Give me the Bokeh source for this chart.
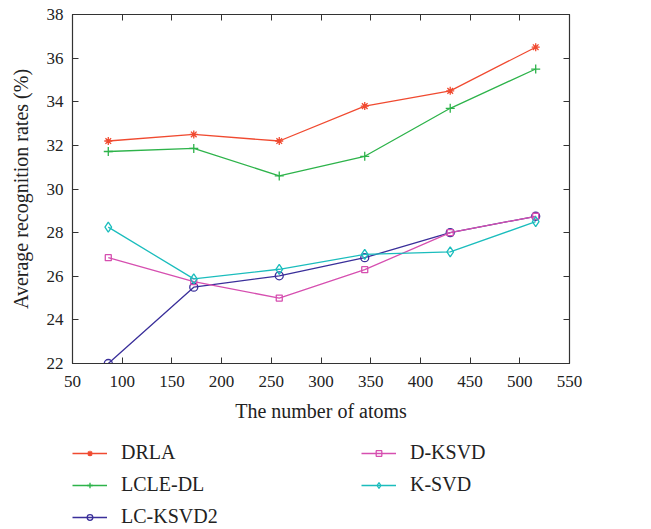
from bokeh.plotting import figure
from bokeh.models import Legend, LegendItem, LinearAxis, FixedTicker, Range1d
from bokeh.layouts import column
from bokeh.embed import file_html
from bokeh.resources import INLINE

atoms = [86, 172, 258, 344, 430, 516]
drla = [32.2, 32.5, 32.2, 33.8, 34.5, 36.5]
lcle_dl = [31.72, 31.86, 30.6, 31.5, 33.7, 35.5]
lc_ksvd2 = [22.0, 25.5, 26.02, 26.85, 28.0, 28.75]
d_ksvd = [26.85, 25.75, 25.0, 26.3, 28.0, 28.75]
k_svd = [28.25, 25.88, 26.32, 27.0, 27.12, 28.5]

x_ticks = [50, 100, 150, 200, 250, 300, 350, 400, 450, 500, 550]
y_ticks = [22, 24, 26, 28, 30, 32, 34, 36, 38]

FONT = "Liberation Serif"

p = figure(width=643, height=435, output_backend="svg", toolbar_location=None,
           x_range=Range1d(50, 550), y_range=Range1d(22, 38),
           min_border_left=72, min_border_right=74, min_border_top=14, min_border_bottom=72)
p.grid.visible = False
p.outline_line_color = "#333333"
p.outline_line_width = 1.2

def style_axis(ax):
    ax.axis_line_color = "#333333"
    ax.major_tick_line_color = "#333333"
    ax.major_tick_in = 6
    ax.major_tick_out = 0
    ax.minor_tick_line_color = None
    ax.major_label_text_font = FONT
    ax.major_label_text_font_size = "17px"
    ax.major_label_text_color = "#222222"
    ax.axis_label_text_font = FONT
    ax.axis_label_text_font_size = "20px"
    ax.axis_label_text_font_style = "normal"
    ax.axis_label_text_color = "#222222"

p.xaxis.ticker = FixedTicker(ticks=x_ticks)
p.yaxis.ticker = FixedTicker(ticks=y_ticks)
p.xaxis.axis_label = "The number of atoms"
p.yaxis.axis_label = "Average recognition rates (%)"
style_axis(p.xaxis[0])
style_axis(p.yaxis[0])
p.xaxis.major_label_standoff = 12
p.yaxis.major_label_standoff = 9
p.xaxis.axis_label_standoff = 10
p.yaxis.axis_label_standoff = 12

top = LinearAxis(ticker=FixedTicker(ticks=x_ticks),
                 major_label_overrides={t: "" for t in x_ticks})
right = LinearAxis(ticker=FixedTicker(ticks=y_ticks),
                   major_label_overrides={t: "" for t in y_ticks})
style_axis(top)
style_axis(right)
top.major_label_standoff = 0
right.major_label_standoff = 0
p.add_layout(top, "above")
p.add_layout(right, "right")

names = ["DRLA", "LCLE-DL", "LC-KSVD2", "D-KSVD", "K-SVD"]
values = [drla, lcle_dl, lc_ksvd2, d_ksvd, k_svd]
colors = ["#F04A30", "#2DB34A", "#3A2F9A", "#D64FB0", "#1BBDBD"]
markers = ["asterisk", "cross", "circle", "square", "diamond"]
sizes = [8, 9, 8, 6, 10]

for ys, color, marker, size in zip(values, colors, markers, sizes):
    p.line(atoms, ys, line_color=color, line_width=1.3)
    p.scatter(atoms, ys, marker=marker, size=size, line_color=color,
              fill_color=None, line_width=1.3)

# legend panel below the plot (its renderers use the same data, outside its view)
lg = figure(width=643, height=94, output_backend="svg", toolbar_location=None,
            x_range=Range1d(0, 1), y_range=Range1d(0, 1),
            min_border_left=0, min_border_right=0, min_border_top=0, min_border_bottom=0)
lg.axis.visible = False
lg.grid.visible = False
lg.outline_line_color = None

items = []
for name, ys, color, marker, size in zip(names, values, colors, markers, sizes):
    l = lg.line(atoms, ys, line_color=color, line_width=1.6)
    s = lg.scatter(atoms, ys, marker=marker, size=size - 2, line_color=color,
                   fill_color=None, line_width=1.3)
    items.append(LegendItem(label=name, renderers=[l, s]))

legend = Legend(items=items, nrows=3, orientation="vertical", location=(0, 1))
legend.label_text_font = FONT
legend.label_text_font_size = "20px"
legend.label_text_color = "#222222"
legend.glyph_width = 35
legend.glyph_height = 14
legend.label_height = 22
legend.label_standoff = 14
legend.label_width = 231
legend.spacing = 9
legend.padding = 0
legend.margin = 0
legend.border_line_color = None
legend.background_fill_alpha = 0
lg.add_layout(legend, "center")

layout = column(p, lg, spacing=0)
open("out.html", "w").write(file_html(layout, INLINE))
